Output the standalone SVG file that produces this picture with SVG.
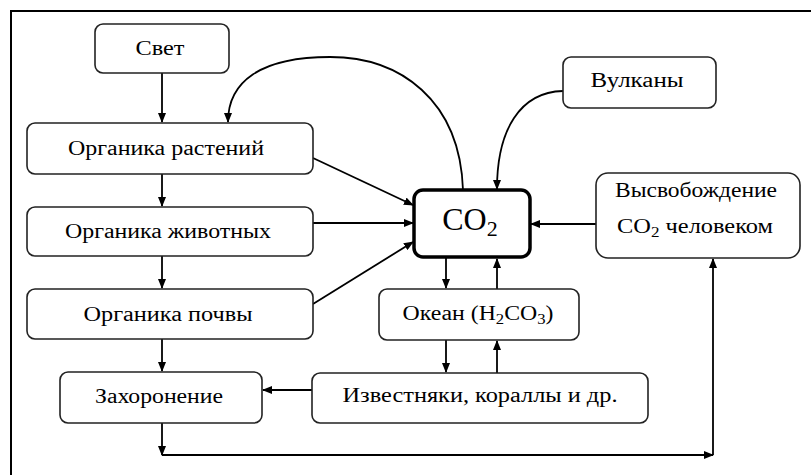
<svg xmlns="http://www.w3.org/2000/svg" width="811" height="475" viewBox="0 0 811 475">
<defs>
<marker id="ah" markerWidth="10" markerHeight="8" refX="9" refY="4" orient="auto" markerUnits="userSpaceOnUse">
<path d="M0,0 L10,4 L0,8 Z" fill="#000"/>
</marker>
<style>
.box{fill:#fff;stroke:#222;stroke-width:1.6}
.main{fill:#fff;stroke:#000;stroke-width:3.5}
.t{fill:#000;text-anchor:middle;font-family:Liberation Serif, DejaVu Serif, serif;font-size:20px}
.c{fill:none;stroke:#000;stroke-width:1.8;marker-end:url(#ah)}
.frame{stroke:#000;stroke-width:2;fill:none}
</style>
</defs>
<rect width="811" height="475" fill="#fff"/>
<path class="frame" d="M11,475 L11,11 L811,11"/>
<g id="connectors">
<path class="c" d="M162,73 L162,122"/>
<path class="c" d="M162,174 L162,206"/>
<path class="c" d="M162,256 L162,288"/>
<path class="c" d="M162,339 L162,371"/>
<path class="c" d="M162,423 L162,455"/>
<path class="c" d="M162,455 L713,455"/>
<path class="c" d="M713,455 L713,259"/>
<path class="c" d="M313,158 L413,205"/>
<path class="c" d="M313,223 L413,223"/>
<path class="c" d="M313,304 L413,242"/>
<path class="c" d="M596,224 L531,224"/>
<path class="c" d="M463,190 C460,100 400,57 330,57 C260,57 228,82 228,122"/>
<path class="c" d="M563,91 C520,92 497,130 497,189"/>
<path class="c" d="M446,258 L446,288"/>
<path class="c" d="M497,289 L497,259"/>
<path class="c" d="M446,340 L446,372"/>
<path class="c" d="M497,373 L497,341"/>
<path class="c" d="M312,390 L263,390"/>
</g>
<g id="svet"><rect class="box" x="95" y="24" width="134" height="49" rx="8"/><text class="t" x="160" y="55" textLength="49" lengthAdjust="spacingAndGlyphs">Свет</text></g>
<g id="org-rast"><rect class="box" x="27" y="123" width="286" height="51" rx="8"/><text class="t" x="166" y="155" textLength="196" lengthAdjust="spacingAndGlyphs">Органика растений</text></g>
<g id="org-zhiv"><rect class="box" x="27" y="207" width="286" height="49" rx="8"/><text class="t" x="168" y="238" textLength="206" lengthAdjust="spacingAndGlyphs">Органика животных</text></g>
<g id="org-poch"><rect class="box" x="27" y="289" width="286" height="50" rx="8"/><text class="t" x="168" y="321" textLength="169" lengthAdjust="spacingAndGlyphs">Органика почвы</text></g>
<g id="zahor"><rect class="box" x="60" y="372" width="202" height="51" rx="8"/><text class="t" x="159" y="403" textLength="128" lengthAdjust="spacingAndGlyphs">Захоронение</text></g>
<g id="izvest"><rect class="box" x="312" y="373" width="336" height="50" rx="8"/><text class="t" x="480" y="402" textLength="275" lengthAdjust="spacingAndGlyphs">Известняки, кораллы и др.</text></g>
<g id="okean"><rect class="box" x="379" y="289" width="200" height="51" rx="8"/><text class="t" x="478" y="320" textLength="151" lengthAdjust="spacingAndGlyphs">Океан (H<tspan font-size="14" dy="4">2</tspan><tspan dy="-4">CO</tspan><tspan font-size="14" dy="4">3</tspan><tspan dy="-4">)</tspan></text></g>
<g id="co2"><rect class="main" x="414" y="190" width="116" height="67" rx="9"/><text class="t" x="470" y="230" style="font-size:32px">CO<tspan font-size="22" dy="6">2</tspan></text></g>
<g id="vulk"><rect class="box" x="563" y="57" width="153" height="51" rx="8"/><text class="t" x="637" y="87" textLength="93" lengthAdjust="spacingAndGlyphs">Вулканы</text></g>
<g id="vysv"><rect class="box" x="596" y="173" width="204" height="85" rx="12"/><text class="t" x="696" y="197" textLength="162" lengthAdjust="spacingAndGlyphs">Высвобождение</text><text class="t" x="695" y="233" textLength="156" lengthAdjust="spacingAndGlyphs">CO<tspan font-size="14" dy="4">2</tspan><tspan dy="-4"> человеком</tspan></text></g>
</svg>
